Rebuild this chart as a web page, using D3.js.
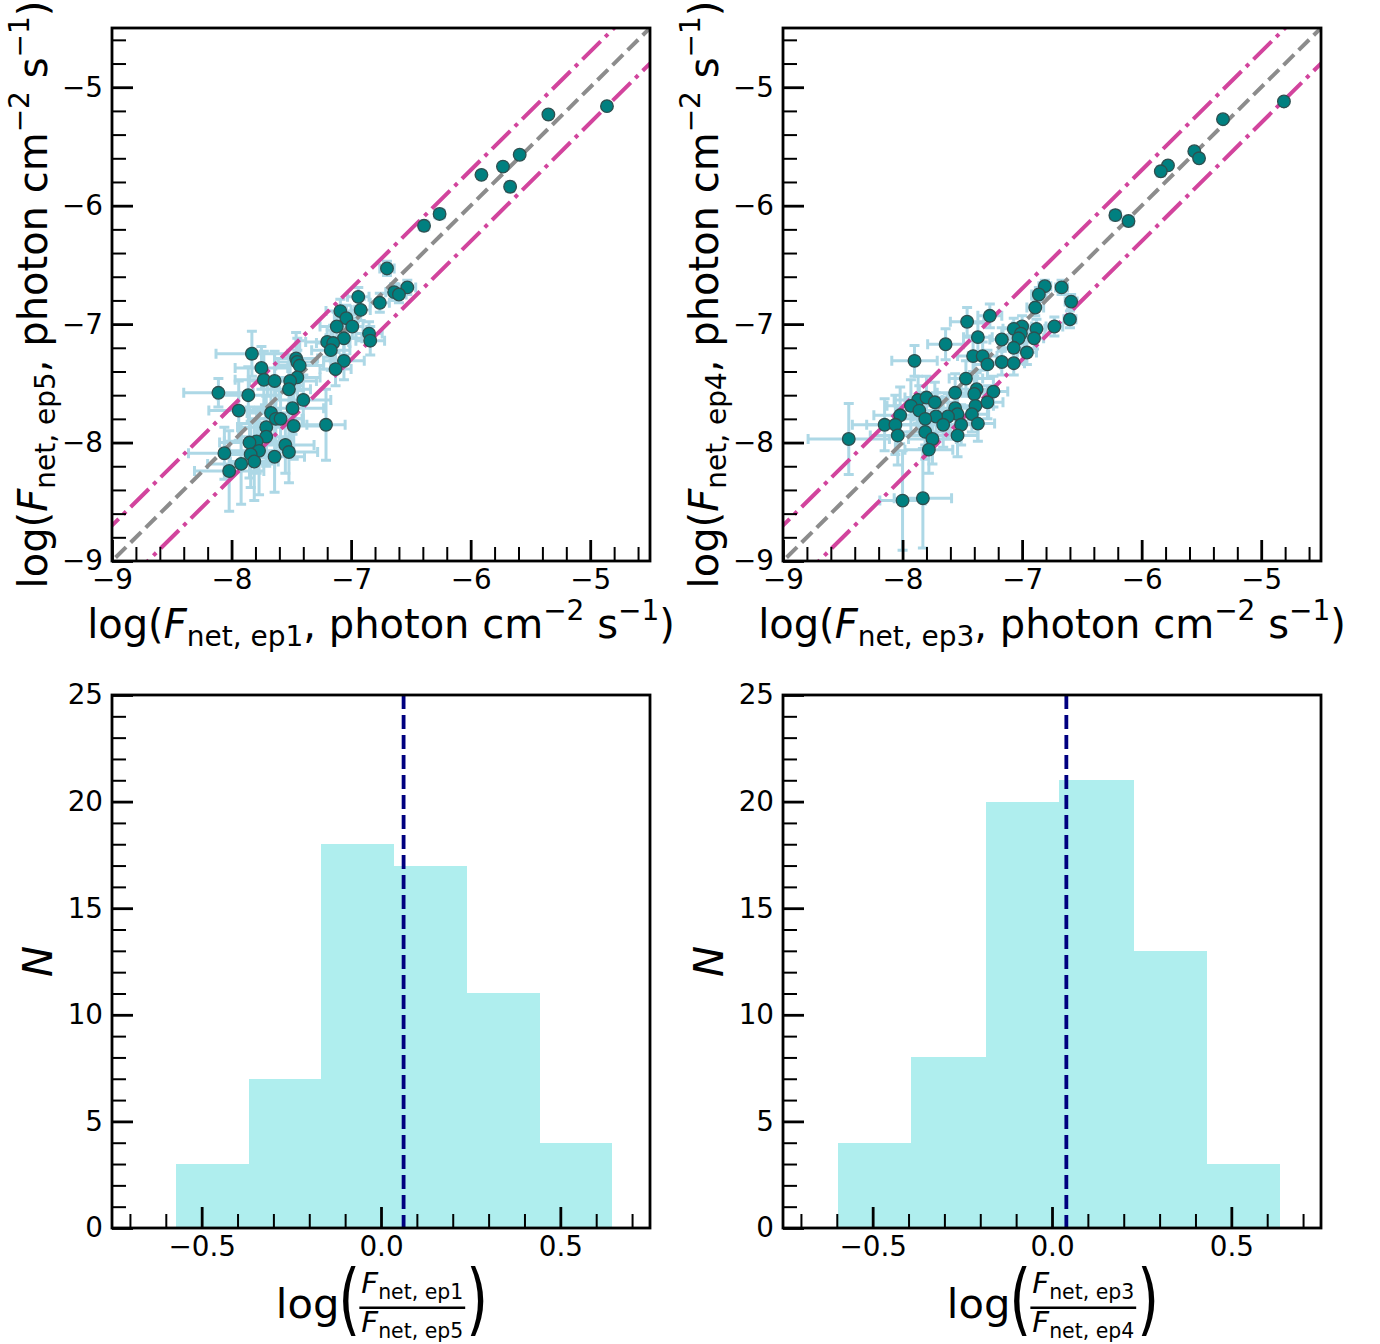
<!DOCTYPE html>
<html>
<head>
<meta charset="utf-8">
<script src="https://cdn.jsdelivr.net/npm/d3@7"></script>
<style>
  body { margin: 0; background: #fff; }
  text { font-family: "DejaVu Sans", sans-serif; }
</style>
</head>
<body>
<svg id="fig" width="1380" height="1344"></svg>
<script>
// ---- data ----
// panel 1: ep1 (x) vs ep5 (y), log flux
const ep1 = [-4.86, -5.35, -5.59, -5.73, -5.91, -5.67, -6.26, -6.39, -6.70, -6.53,
  -6.64, -6.60, -6.94, -6.76, -6.92, -7.09, -7.04, -6.99, -7.12, -6.85,
  -6.84, -7.06, -7.20, -7.15, -7.17, -7.06, -7.13, -7.83, -7.75, -7.46,
  -7.45, -7.43, -7.73, -7.64, -7.45, -7.51, -7.52, -8.11, -7.86, -7.40,
  -7.94, -7.67, -7.49, -7.63, -7.59, -7.21, -7.71, -7.48, -7.71, -7.79,
  -7.85, -7.55, -8.06, -7.52, -7.77, -7.84, -7.81, -7.64, -7.92, -8.02];
const ep5 = [-5.16, -5.23, -5.57, -5.67, -5.74, -5.84, -6.07, -6.17, -6.53, -6.69,
  -6.73, -6.75, -6.77, -6.82, -6.88, -6.89, -6.95, -7.02, -7.02, -7.08,
  -7.14, -7.12, -7.15, -7.16, -7.22, -7.31, -7.38, -7.25, -7.37, -7.29,
  -7.32, -7.35, -7.47, -7.48, -7.45, -7.48, -7.55, -7.58, -7.60, -7.64,
  -7.73, -7.75, -7.71, -7.80, -7.80, -7.85, -7.87, -7.86, -7.95, -7.99,
  -8.00, -8.02, -8.09, -8.08, -8.07, -8.10, -8.16, -8.12, -8.18, -8.24];
const ep1Err = [0.02, 0.02, 0.03, 0.03, 0.03, 0.03, 0.04, 0.04, 0.06, 0.07,
  0.07, 0.06, 0.09, 0.08, 0.08, 0.12, 0.10, 0.09, 0.14, 0.11,
  0.12, 0.15, 0.18, 0.14, 0.16, 0.17, 0.13, 0.30, 0.22, 0.18,
  0.16, 0.20, 0.24, 0.21, 0.19, 0.22, 0.18, 0.29, 0.26, 0.23,
  0.25, 0.20, 0.26, 0.22, 0.19, 0.16, 0.24, 0.28, 0.21, 0.27,
  0.25, 0.24, 0.30, 0.24, 0.26, 0.22, 0.20, 0.25, 0.28, 0.29];
const ep5Err = [0.02, 0.02, 0.03, 0.03, 0.03, 0.04, 0.04, 0.04, 0.06, 0.06,
  0.07, 0.07, 0.08, 0.08, 0.09, 0.10, 0.11, 0.10, 0.12, 0.10,
  0.12, 0.14, 0.13, 0.15, 0.17, 0.16, 0.14, 0.19, 0.18, 0.22,
  0.20, 0.21, 0.24, 0.25, 0.23, 0.22, 0.26, 0.12, 0.24, 0.21,
  0.25, 0.26, 0.22, 0.27, 0.24, 0.30, 0.26, 0.28, 0.25, 0.27,
  0.30, 0.24, 0.22, 0.26, 0.37, 0.28, 0.33, 0.30, 0.34, 0.34];

// panel 2: ep3 (x) vs ep4 (y)
const ep3 = [-4.81, -5.32, -5.56, -5.52, -5.78, -5.84, -6.22, -6.11, -6.81, -6.67,
  -6.86, -6.59, -6.89, -7.27, -7.46, -6.60, -6.73, -7.00, -7.07, -6.88,
  -7.01, -7.03, -6.90, -7.37, -7.17, -7.64, -7.07, -6.96, -7.41, -7.33,
  -7.29, -7.17, -7.07, -7.90, -7.47, -7.56, -7.38, -7.40, -7.24, -7.87,
  -7.80, -7.73, -7.93, -7.86, -7.56, -7.39, -7.29, -8.02, -7.54, -7.62,
  -7.72, -7.81, -7.42, -8.15, -8.06, -7.66, -7.51, -7.37, -8.04, -7.81,
  -7.54, -7.75, -8.45, -7.78, -8.00, -7.83];
const ep4 = [-5.12, -5.27, -5.54, -5.60, -5.66, -5.71, -6.08, -6.13, -6.68, -6.69,
  -6.75, -6.81, -6.86, -6.93, -6.98, -6.96, -7.02, -7.02, -7.04, -7.04,
  -7.08, -7.12, -7.12, -7.11, -7.13, -7.17, -7.20, -7.24, -7.27, -7.27,
  -7.34, -7.32, -7.33, -7.31, -7.46, -7.58, -7.55, -7.59, -7.57, -7.64,
  -7.62, -7.66, -7.69, -7.73, -7.71, -7.69, -7.66, -7.77, -7.76, -7.78,
  -7.78, -7.80, -7.76, -7.85, -7.85, -7.85, -7.85, -7.84, -7.94, -7.91,
  -7.94, -7.97, -7.97, -8.06, -8.49, -8.47];
const ep3Err = [0.02, 0.03, 0.03, 0.03, 0.03, 0.03, 0.04, 0.04, 0.05, 0.05,
  0.06, 0.05, 0.07, 0.10, 0.14, 0.05, 0.07, 0.08, 0.09, 0.07,
  0.08, 0.09, 0.08, 0.12, 0.10, 0.15, 0.09, 0.08, 0.13, 0.12,
  0.11, 0.10, 0.09, 0.19, 0.14, 0.15, 0.13, 0.14, 0.12, 0.20,
  0.18, 0.17, 0.20, 0.19, 0.16, 0.15, 0.13, 0.22, 0.16, 0.17,
  0.19, 0.21, 0.14, 0.27, 0.24, 0.18, 0.16, 0.14, 0.23, 0.21,
  0.17, 0.20, 0.34, 0.20, 0.19, 0.24];
const ep4Err = [0.02, 0.03, 0.03, 0.03, 0.03, 0.04, 0.04, 0.04, 0.05, 0.06,
  0.06, 0.06, 0.07, 0.10, 0.12, 0.07, 0.08, 0.09, 0.09, 0.08,
  0.09, 0.10, 0.09, 0.12, 0.10, 0.13, 0.10, 0.10, 0.13, 0.12,
  0.12, 0.11, 0.10, 0.13, 0.15, 0.16, 0.14, 0.15, 0.13, 0.20,
  0.18, 0.17, 0.22, 0.21, 0.16, 0.15, 0.14, 0.24, 0.17, 0.19,
  0.20, 0.22, 0.15, 0.22, 0.25, 0.19, 0.17, 0.15, 0.25, 0.23,
  0.18, 0.21, 0.30, 0.20, 0.42, 0.42];

// histograms of log ratios
const edges15 = [-0.571, -0.369, -0.166, 0.036, 0.239, 0.441, 0.644];
const counts15 = [3, 7, 18, 17, 11, 4];
const mean15 = 0.063;
const edges34 = [-0.597, -0.392, -0.185, 0.019, 0.227, 0.431, 0.635];
const counts34 = [4, 8, 20, 21, 13, 3];
const mean34 = 0.040;

// tick values
const fluxMajor = [-9, -8, -7, -6, -5];
const fluxMinor = d3.range(-9, -4.5, 0.2).map(v => +v.toFixed(1)).filter(v => !Number.isInteger(v));
const ratioMajor = [-0.5, 0, 0.5];
const ratioMinor = [-0.7, -0.6, -0.4, -0.3, -0.2, -0.1, 0.1, 0.2, 0.3, 0.4, 0.6, 0.7];
const countMajor = [0, 5, 10, 15, 20, 25];
const countMinor = d3.range(1, 25).filter(v => v % 5 !== 0);

// ---- layout ----
const W = 538, H = 533;
const TICK = 27.8, LABEL = 41.7, FLUX = 40;
const svg = d3.select('#fig');

function addAxes(g, x, y, xMaj, xMin, yMaj, yMin, fx, fy) {
  const xa = g.append('g').attr('transform', `translate(0,${H})`)
    .call(d3.axisBottom(x).tickValues(xMaj).tickFormat(fx).tickSizeInner(-21).tickSizeOuter(0).tickPadding(8));
  const xm = g.append('g').attr('transform', `translate(0,${H})`)
    .call(d3.axisBottom(x).tickValues(xMin).tickFormat('').tickSizeInner(-14).tickSizeOuter(0));
  const ya = g.append('g')
    .call(d3.axisLeft(y).tickValues(yMaj).tickFormat(fy).tickSizeInner(-21).tickSizeOuter(0).tickPadding(9));
  const ym = g.append('g')
    .call(d3.axisLeft(y).tickValues(yMin).tickFormat('').tickSizeInner(-14).tickSizeOuter(0));
  [xa, xm, ya, ym].forEach(a => a.select('.domain').remove());
  [xa, ya].forEach(a => a.selectAll('line').attr('stroke', '#000').attr('stroke-width', 2.8));
  [xm, ym].forEach(a => a.selectAll('line').attr('stroke', '#000').attr('stroke-width', 2));
  [xa, ya].forEach(a => a.selectAll('text').attr('font-size', TICK).attr('fill', '#000')
    .style('font-family', '"DejaVu Sans", sans-serif'));
  // frame
  g.append('rect').attr('width', W).attr('height', H)
    .attr('fill', 'none').attr('stroke', '#000').attr('stroke-width', 2.8);
}

function fluxLabel(x, y, ep, rotate) {
  const t = svg.append('text')
    .attr('transform', rotate ? `translate(${x},${y}) rotate(-90)` : `translate(${x},${y})`)
    .attr('text-anchor', 'middle').attr('font-size', FLUX).style('white-space', 'pre');
  t.append('tspan').text('log(');
  t.append('tspan').attr('font-style', 'italic').text('F');
  t.append('tspan').attr('font-size', FLUX * 0.7).attr('dy', 8).text('net, ' + ep);
  t.append('tspan').attr('dy', -8).text(', photon cm');
  t.append('tspan').attr('font-size', FLUX * 0.7).attr('dy', -18).text('\u22122');
  t.append('tspan').attr('dy', 18).text(' s');
  t.append('tspan').attr('font-size', FLUX * 0.7).attr('dy', -18).text('\u22121');
  t.append('tspan').attr('dy', 18).text(')');
}

function scatter(ox, oy, xs, ys, xe, ye, id) {
  const g = svg.append('g').attr('transform', `translate(${ox},${oy})`);
  const x = d3.scaleLinear().domain([-9, -4.5]).range([0, W]);
  const y = d3.scaleLinear().domain([-9, -4.5]).range([H, 0]);
  g.append('clipPath').attr('id', id).append('rect').attr('width', W).attr('height', H);
  const pts = xs.map((v, i) => ({x: v, y: ys[i], xe: xe[i], ye: ye[i]}));
  const plot = g.append('g').attr('clip-path', `url(#${id})`);

  // error bars with caps
  const cap = 5;
  plot.append('g').attr('fill', 'none').attr('stroke', '#add8e6').attr('stroke-width', 3)
    .selectAll('path').data(pts).join('path')
    .attr('d', d => {
      const cx = x(d.x), cy = y(d.y);
      const x0 = x(d.x - d.xe), x1 = x(d.x + d.xe), y0 = y(d.y - d.ye), y1 = y(d.y + d.ye);
      return `M${x0},${cy}H${x1}M${cx},${y0}V${y1}` +
        `M${x0},${cy - cap}V${cy + cap}M${x1},${cy - cap}V${cy + cap}` +
        `M${cx - cap},${y0}H${cx + cap}M${cx - cap},${y1}H${cx + cap}`;
    });

  // 1:1 and +-0.3 dex lines
  const line = d3.line().x(d => x(d[0])).y(d => y(d[1]));
  const span = [-9.6, -3.9];
  [0.3, -0.3].forEach(off => {
    plot.append('path').attr('d', line(span.map(v => [v, v + off])))
      .attr('fill', 'none').attr('stroke', '#d2449d').attr('stroke-width', 4)
      .attr('stroke-dasharray', '25.6,6.4,4,6.4');
  });
  plot.append('path').attr('d', line(span.map(v => [v, v])))
    .attr('fill', 'none').attr('stroke', '#8c8c8c').attr('stroke-width', 4)
    .attr('stroke-dasharray', '14.8,6.4');

  plot.append('g').selectAll('circle').data(pts).join('circle')
    .attr('cx', d => x(d.x)).attr('cy', d => y(d.y)).attr('r', 6.3)
    .attr('fill', '#008080').attr('stroke', '#2f4f4f').attr('stroke-width', 1.3);

  addAxes(g, x, y, fluxMajor, fluxMinor, fluxMajor, fluxMinor, d3.format('d'), d3.format('d'));
}

function histogram(ox, oy, edges, counts, mean) {
  const g = svg.append('g').attr('transform', `translate(${ox},${oy})`);
  const x = d3.scaleLinear().domain([-0.75, 0.75]).range([0, W]);
  const y = d3.scaleLinear().domain([0, 25]).range([H, 0]);
  const bins = counts.map((c, i) => ({x0: edges[i], x1: edges[i + 1], n: c}));
  g.append('g').attr('shape-rendering', 'crispEdges').selectAll('rect').data(bins).join('rect')
    .attr('x', d => x(d.x0)).attr('width', d => x(d.x1) - x(d.x0) + 0.5)
    .attr('y', d => y(d.n)).attr('height', d => H - y(d.n))
    .attr('fill', '#afeeee');
  g.append('line').attr('x1', x(mean)).attr('x2', x(mean)).attr('y1', 0).attr('y2', H)
    .attr('stroke', '#000080').attr('stroke-width', 3.8).attr('stroke-dasharray', '14,6');
  addAxes(g, x, y, ratioMajor, ratioMinor, countMajor, countMinor, d3.format('.1f'), d3.format('d'));
}

function ratioLabel(cx, num, den) {
  const g = svg.append('g');
  const base = 1318;
  const lg = g.append('text').attr('x', 0).attr('y', base).attr('font-size', LABEL).text('log');
  const wLog = lg.node().getComputedTextLength();
  g.append('text').attr('font-size', 56)
    .attr('transform', `translate(${wLog - 1},1326) scale(1,1.4)`).text('(');
  const fx = wLog + 20;
  function frac(yb, ep) {
    const t = g.append('text').attr('x', fx + 2).attr('y', yb).attr('font-size', LABEL * 0.7).style('white-space', 'pre');
    t.append('tspan').attr('font-style', 'italic').text('F');
    t.append('tspan').attr('font-size', LABEL * 0.49).attr('dy', 6).text('net, ' + ep);
    return t.node().getComputedTextLength();
  }
  const wn = frac(1293, num);
  const wd = frac(1332, den);
  const wf = Math.max(wn, wd) + 4;
  g.append('rect').attr('x', fx).attr('y', 1306.5).attr('width', wf).attr('height', 2.5).attr('fill', '#000');
  g.append('text').attr('font-size', 56)
    .attr('transform', `translate(${fx + wf + 1},1326) scale(1,1.4)`).text(')');
  const total = fx + wf + 1 + 16;
  g.attr('transform', `translate(${cx - total / 2},0)`);
}

// ---- panels ----
scatter(112, 28, ep1, ep5, ep1Err, ep5Err, 'clipA');
scatter(783, 28, ep3, ep4, ep3Err, ep4Err, 'clipB');
histogram(112, 695, edges15, counts15, mean15);
histogram(783, 695, edges34, counts34, mean34);

fluxLabel(381, 638, 'ep1', false);
fluxLabel(47, 294.5, 'ep5', true);
fluxLabel(1052, 638, 'ep3', false);
fluxLabel(718, 294.5, 'ep4', true);

[52, 723].forEach(xp => {
  svg.append('text').attr('transform', `translate(${xp},961.5) rotate(-90)`)
    .attr('text-anchor', 'middle').attr('font-size', LABEL).attr('font-style', 'italic').text('N');
});
ratioLabel(379, 'ep1', 'ep5');
ratioLabel(1050, 'ep3', 'ep4');
</script>
</body>
</html>
